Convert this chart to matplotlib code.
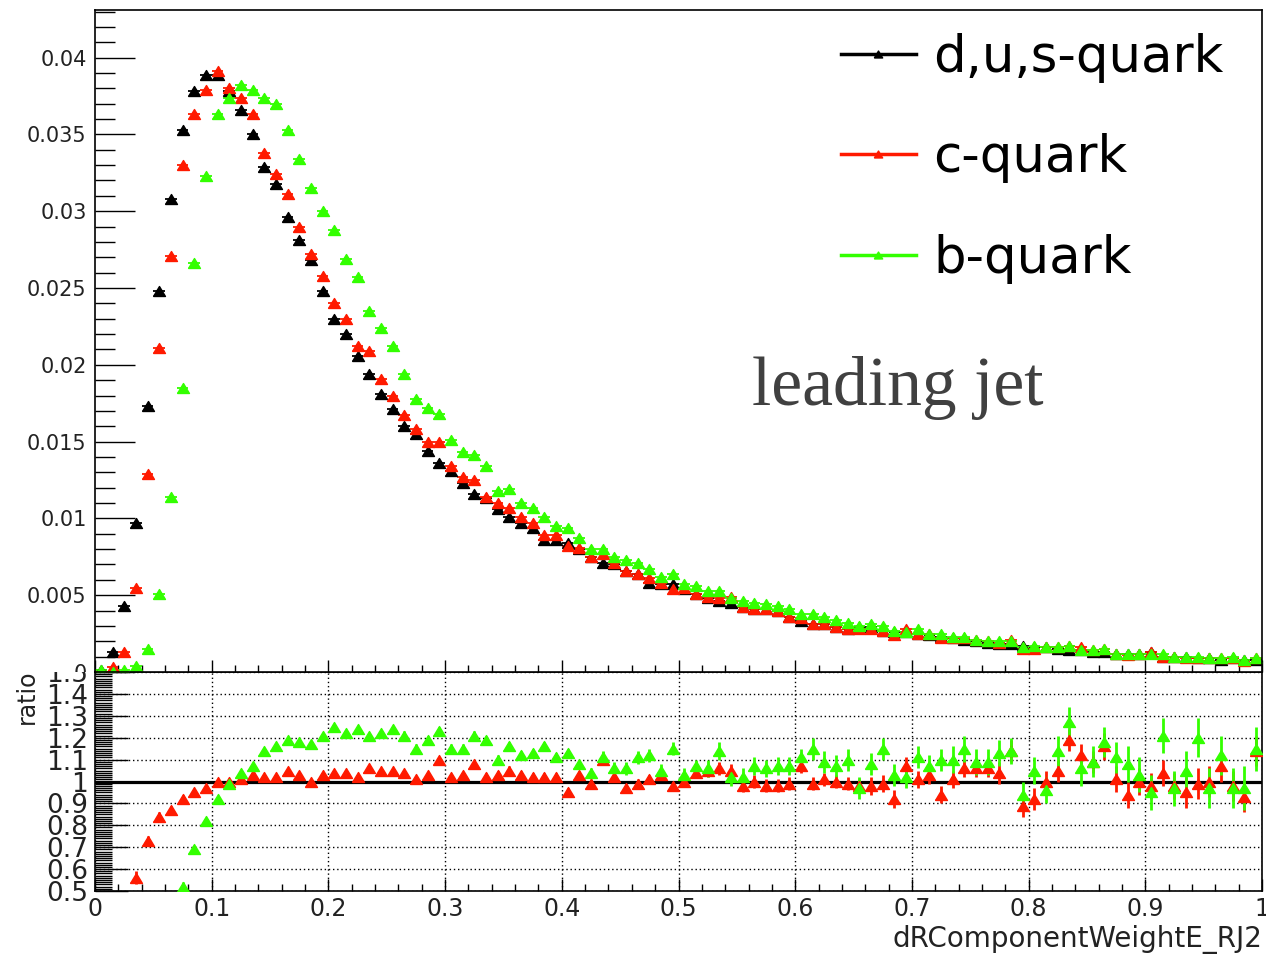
import matplotlib
matplotlib.use("Agg")
import matplotlib.pyplot as plt
from matplotlib.lines import Line2D
from matplotlib.ticker import MultipleLocator
from matplotlib.transforms import Bbox, TransformedBbox

# bin centres of dRComponentWeightE_RJ2 (100 bins, 0..1)
x_centers = [round(0.005 + 0.01 * i, 3) for i in range(100)]
x_halfwidth = 0.005

# normalised distributions
dus_quark = [
	0.0001, 0.0013, 0.0043, 0.0097, 0.0173, 0.0248, 0.0308, 0.0353, 0.0378, 0.0389,
	0.0389, 0.0378, 0.0366, 0.0350, 0.0329, 0.0318, 0.0296, 0.0281, 0.0268, 0.0248,
	0.0230, 0.0220, 0.0206, 0.0194, 0.0181, 0.0171, 0.0160, 0.0155, 0.0144, 0.0136,
	0.0131, 0.0123, 0.0116, 0.0113, 0.0106, 0.0101, 0.0097, 0.0094, 0.0086, 0.0086,
	0.0084, 0.0080, 0.0075, 0.0071, 0.0070, 0.0066, 0.0064, 0.0058, 0.0057, 0.0057,
	0.0054, 0.0051, 0.0048, 0.0046, 0.0045, 0.0042, 0.0041, 0.0041, 0.0040, 0.0036,
	0.0033, 0.0031, 0.0031, 0.0029, 0.0028, 0.0029, 0.0029, 0.0027, 0.0026, 0.0026,
	0.0025, 0.0024, 0.0023, 0.0022, 0.0021, 0.0020, 0.0019, 0.0018, 0.0018, 0.0017,
	0.0016, 0.0016, 0.0015, 0.0014, 0.0014, 0.0013, 0.0013, 0.0012, 0.0012, 0.0012,
	0.0013, 0.0010, 0.0010, 0.0010, 0.0009, 0.0009, 0.0008, 0.0009, 0.0008, 0.0008
]

c_quark = [
	0.00005, 0.0003, 0.0013, 0.0055, 0.0129, 0.0211, 0.0271, 0.0330, 0.0363, 0.0379,
	0.0391, 0.0380, 0.0374, 0.0363, 0.0338, 0.0324, 0.0311, 0.0290, 0.0272, 0.0258,
	0.0240, 0.0230, 0.0212, 0.0209, 0.0191, 0.0180, 0.0167, 0.0158, 0.0150, 0.0150,
	0.0134, 0.0127, 0.0125, 0.0114, 0.0110, 0.0107, 0.0101, 0.0097, 0.0089, 0.0089,
	0.0082, 0.0081, 0.0075, 0.0077, 0.0071, 0.0066, 0.0064, 0.0061, 0.0058, 0.0054,
	0.0055, 0.0051, 0.0049, 0.0048, 0.0049, 0.0042, 0.0041, 0.0041, 0.0040, 0.0036,
	0.0035, 0.0031, 0.0031, 0.0029, 0.0028, 0.0028, 0.0028, 0.0027, 0.0024, 0.0028,
	0.0025, 0.0025, 0.0022, 0.0022, 0.0022, 0.0021, 0.0020, 0.0019, 0.0021, 0.0015,
	0.0015, 0.0016, 0.0016, 0.0017, 0.0016, 0.0014, 0.0015, 0.0012, 0.0011, 0.0012,
	0.0013, 0.0010, 0.0010, 0.0009, 0.0009, 0.0009, 0.0009, 0.0009, 0.0007, 0.0009
]

b_quark = [
	0.0001, 0.0000, 0.0001, 0.0004, 0.0015, 0.0051, 0.0114, 0.0185, 0.0266, 0.0323,
	0.0363, 0.0374, 0.0382, 0.0379, 0.0374, 0.0370, 0.0353, 0.0334, 0.0315, 0.0300,
	0.0288, 0.0269, 0.0257, 0.0235, 0.0224, 0.0212, 0.0194, 0.0178, 0.0172, 0.0168,
	0.0151, 0.0143, 0.0141, 0.0134, 0.0118, 0.0119, 0.0110, 0.0107, 0.0101, 0.0095,
	0.0094, 0.0087, 0.0080, 0.0080, 0.0075, 0.0073, 0.0071, 0.0067, 0.0062, 0.0064,
	0.0057, 0.0056, 0.0053, 0.0053, 0.0048, 0.0046, 0.0045, 0.0044, 0.0043, 0.0041,
	0.0038, 0.0038, 0.0036, 0.0034, 0.0032, 0.0030, 0.0031, 0.0030, 0.0027, 0.0026,
	0.0028, 0.0025, 0.0025, 0.0023, 0.0023, 0.0021, 0.0020, 0.0020, 0.0020, 0.0016,
	0.0017, 0.0016, 0.0016, 0.0017, 0.0014, 0.0014, 0.0015, 0.0012, 0.0012, 0.0012,
	0.0012, 0.0012, 0.0010, 0.0010, 0.0010, 0.0009, 0.0009, 0.0010, 0.0008, 0.0009
]

# ratio panel (x / d,u,s)
ratio_c = [
	0.00, 0.23, 0.30, 0.56, 0.73, 0.84, 0.87, 0.92, 0.95, 0.97,
	1.00, 1.00, 1.01, 1.03, 1.02, 1.02, 1.05, 1.03, 1.00, 1.03,
	1.04, 1.04, 1.02, 1.06, 1.05, 1.05, 1.04, 1.01, 1.03, 1.10,
	1.02, 1.03, 1.08, 1.02, 1.03, 1.05, 1.03, 1.02, 1.02, 1.02,
	0.95, 1.03, 0.99, 1.10, 1.02, 0.97, 0.99, 1.01, 1.03, 0.98,
	1.00, 1.04, 1.05, 1.06, 1.05, 0.98, 1.00, 0.98, 0.98, 0.99,
	1.07, 0.99, 1.01, 1.00, 0.99, 0.98, 0.98, 0.99, 0.92, 1.07,
	1.01, 1.03, 0.94, 1.01, 1.06, 1.06, 1.06, 1.04, 1.14, 0.89,
	0.92, 1.00, 1.05, 1.19, 1.12, 1.09, 1.16, 1.01, 0.94, 1.00,
	0.98, 1.04, 0.98, 0.95, 0.99, 1.00, 1.07, 0.98, 0.93, 1.14
]

ratio_b = [
	0.30, 0.00, 0.02, 0.04, 0.09, 0.21, 0.37, 0.52, 0.69, 0.82,
	0.92, 0.99, 1.04, 1.07, 1.14, 1.16, 1.19, 1.18, 1.17, 1.21,
	1.25, 1.22, 1.24, 1.21, 1.22, 1.24, 1.21, 1.15, 1.19, 1.23,
	1.15, 1.15, 1.21, 1.19, 1.10, 1.16, 1.12, 1.13, 1.16, 1.11,
	1.13, 1.08, 1.04, 1.11, 1.06, 1.06, 1.11, 1.12, 1.05, 1.15,
	1.03, 1.07, 1.06, 1.14, 1.02, 1.02, 1.07, 1.06, 1.07, 1.07,
	1.11, 1.15, 1.09, 1.07, 1.10, 0.97, 1.08, 1.15, 1.03, 1.02,
	1.11, 1.07, 1.10, 1.10, 1.15, 1.09, 1.09, 1.13, 1.14, 0.94,
	1.05, 0.96, 1.14, 1.27, 1.06, 1.09, 1.18, 1.11, 1.08, 1.03,
	0.95, 1.21, 0.97, 1.05, 1.20, 0.97, 1.12, 0.97, 0.97, 1.15
]

ratio_c_err = [
	0.09, 0.05, 0.04, 0.03, 0.02, 0.02, 0.02, 0.02, 0.01, 0.01,
	0.01, 0.01, 0.01, 0.01, 0.01, 0.01, 0.01, 0.01, 0.01, 0.01,
	0.01, 0.01, 0.01, 0.01, 0.01, 0.01, 0.01, 0.01, 0.01, 0.01,
	0.01, 0.01, 0.01, 0.02, 0.02, 0.02, 0.02, 0.02, 0.02, 0.02,
	0.02, 0.02, 0.02, 0.02, 0.02, 0.02, 0.02, 0.02, 0.02, 0.02,
	0.02, 0.02, 0.03, 0.03, 0.03, 0.03, 0.03, 0.03, 0.03, 0.03,
	0.03, 0.03, 0.03, 0.03, 0.03, 0.03, 0.04, 0.04, 0.04, 0.04,
	0.04, 0.04, 0.04, 0.04, 0.04, 0.04, 0.04, 0.05, 0.05, 0.05,
	0.05, 0.05, 0.05, 0.05, 0.05, 0.05, 0.06, 0.06, 0.06, 0.06,
	0.06, 0.06, 0.06, 0.07, 0.07, 0.07, 0.07, 0.07, 0.07, 0.07
]

ratio_b_err = [
	0.20, 0.10, 0.08, 0.05, 0.03, 0.02, 0.02, 0.02, 0.01, 0.01,
	0.01, 0.01, 0.01, 0.01, 0.01, 0.01, 0.01, 0.01, 0.01, 0.01,
	0.01, 0.01, 0.01, 0.01, 0.01, 0.01, 0.02, 0.02, 0.02, 0.02,
	0.02, 0.02, 0.02, 0.02, 0.02, 0.02, 0.02, 0.02, 0.02, 0.02,
	0.02, 0.02, 0.02, 0.03, 0.03, 0.03, 0.03, 0.03, 0.03, 0.03,
	0.03, 0.03, 0.04, 0.04, 0.04, 0.04, 0.04, 0.04, 0.04, 0.04,
	0.04, 0.05, 0.05, 0.05, 0.05, 0.05, 0.05, 0.05, 0.05, 0.05,
	0.05, 0.05, 0.05, 0.06, 0.06, 0.06, 0.06, 0.06, 0.06, 0.06,
	0.06, 0.06, 0.07, 0.07, 0.08, 0.07, 0.07, 0.07, 0.08, 0.08,
	0.08, 0.08, 0.08, 0.09, 0.09, 0.09, 0.09, 0.09, 0.10, 0.10
]

series_labels = ["d,u,s-quark", "c-quark", "b-quark"]
top_yticks = [0, 0.005, 0.01, 0.015, 0.02, 0.025, 0.03, 0.035, 0.04]
top_yticklabels = ["0", "0.005", "0.01", "0.015", "0.02", "0.025", "0.03", "0.035", "0.04"]
ratio_yticks = [0.5, 0.6, 0.7, 0.8, 0.9, 1.0, 1.1, 1.2, 1.3, 1.4, 1.5]
ratio_yticklabels = ["0.5", "0.6", "0.7", "0.8", "0.9", "1", "1.1", "1.2", "1.3", "1.4", "1.5"]
xticks = [0, 0.1, 0.2, 0.3, 0.4, 0.5, 0.6, 0.7, 0.8, 0.9, 1.0]
xticklabels = ["0", "0.1", "0.2", "0.3", "0.4", "0.5", "0.6", "0.7", "0.8", "0.9", "1"]

COLORS = ["black", "#ff1a00", "#33ff00"]
TRI = [(-1.2, -1.0), (1.2, -1.0), (0.0, 1.0), (-1.2, -1.0)]
W, H = 1266, 958

def px_x(p):
	return p / W

def px_y(p):
	return 1.0 - p / H

def main():
	plt.rcParams["font.family"] = ["DejaVu Sans"]

	fig = plt.figure(figsize=(W / 100, H / 100), dpi=100)
	fig.patch.set_facecolor("white")

	left, right = px_x(95), px_x(1262)
	split = px_y(672)

	ax2 = fig.add_axes([left, px_y(891), right - left, split - px_y(891)])
	ax = fig.add_axes([left, split, right - left, px_y(10) - split])

	# top panel
	for ys, col in zip([dus_quark, c_quark, b_quark], COLORS):
		ax.errorbar(x_centers, ys, xerr=x_halfwidth, marker=TRI, ms=8.6, color=col,
			ls="none", elinewidth=1.3, capsize=0)

	ax.set_xlim(0, 1)
	ax.set_ylim(0, 0.0431)
	ax.set_yticks(top_yticks)
	ax.set_yticklabels(top_yticklabels, fontsize=15, color="#222222")
	ax.yaxis.set_minor_locator(MultipleLocator(0.001))
	ax.xaxis.set_major_locator(MultipleLocator(0.1))
	ax.xaxis.set_minor_locator(MultipleLocator(0.02))
	ax.tick_params(axis="y", which="major", direction="in", length=28.8, width=1, pad=6)
	ax.tick_params(axis="y", which="minor", direction="in", length=14.4, width=1)
	ax.tick_params(axis="x", which="major", direction="in", length=9, width=1, labelbottom=False)
	ax.tick_params(axis="x", which="minor", direction="in", length=5, width=1)

	for sp in ax.spines.values():
		sp.set_linewidth(1.2)

	handles = [Line2D([0], [0], color=col, lw=2.5, marker=TRI, ms=6) for col in COLORS]
	ax.legend(handles, series_labels, loc="upper left", bbox_to_anchor=(px_x(841), px_y(33)),
		bbox_transform=fig.transFigure, frameon=False, fontsize=37, borderpad=0,
		handlelength=1.45, handletextpad=0.35, labelspacing=0.98, borderaxespad=0)

	fig.text(px_x(752), px_y(405), "leading jet", family="Liberation Serif", fontsize=50,
		color="#404040", va="baseline", ha="left")

	# ratio panel
	ax2.axhline(1.0, color="black", lw=2.3, zorder=3)

	for ys, err, col in zip([ratio_c, ratio_b], [ratio_c_err, ratio_b_err], COLORS[1:]):
		ax2.errorbar(x_centers, ys, yerr=err, marker=TRI, ms=8.6, color=col,
			ls="none", elinewidth=2, capsize=0, zorder=4)

	ax2.set_xlim(0, 1)
	ax2.set_ylim(0.5, 1.5)
	ax2.set_xticks(xticks)
	ax2.set_xticklabels(xticklabels, fontsize=17, color="#222222")
	ax2.set_yticks(ratio_yticks)
	ax2.set_yticklabels(ratio_yticklabels, fontsize=19, color="#222222")
	ax2.xaxis.set_minor_locator(MultipleLocator(0.02))
	ax2.yaxis.set_minor_locator(MultipleLocator(0.01))
	ax2.tick_params(axis="y", which="major", direction="in", length=23.8, width=1, pad=5)
	ax2.tick_params(axis="y", which="minor", direction="in", length=12, width=1)
	ax2.tick_params(axis="x", which="major", direction="in", length=9, width=1, pad=4)
	ax2.tick_params(axis="x", which="minor", direction="in", length=5, width=1)
	ax2.grid(True, which="major", color="black", ls=(0, (1, 2)), lw=1)

	for sp in ax2.spines.values():
		sp.set_linewidth(1.2)

	fig.text(right, px_y(940), "dRComponentWeightE_RJ2", fontsize=20, color="#222222",
		ha="right", va="center")
	fig.text(px_x(27), px_y(697), "ratio", fontsize=17, color="#222222", rotation=90,
		ha="center", va="center")

	# each pad clips its own labels at the pad boundary
	upper_clip = TransformedBbox(Bbox.from_extents(0, split, 1, 1), fig.transFigure)
	lower_clip = TransformedBbox(Bbox.from_extents(0, 0, 1, split), fig.transFigure)

	for lab in ax.get_yticklabels():
		lab.set_clip_box(upper_clip)
		lab.set_clip_on(True)

	for lab in ax2.get_yticklabels():
		lab.set_clip_box(lower_clip)
		lab.set_clip_on(True)

	fig.savefig("out.png", dpi=100)
	plt.close(fig)

if (__name__ == "__main__"):
	main()
